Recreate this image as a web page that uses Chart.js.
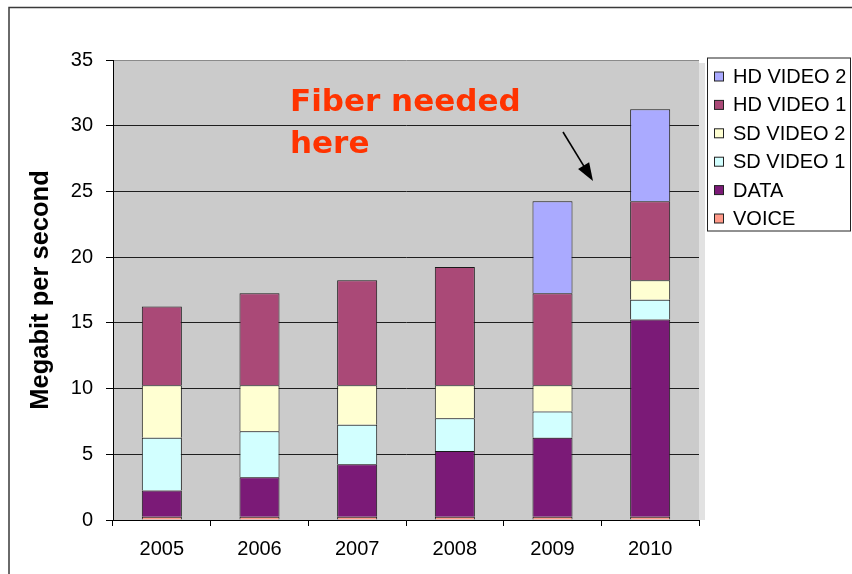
<!DOCTYPE html>
<html>
<head>
<meta charset="utf-8">
<script src="https://cdn.jsdelivr.net/npm/chart.js@4.4.1/dist/chart.umd.min.js"></script>
<style>
html,body{margin:0;padding:0;background:#ffffff;overflow:hidden}
#wrap{width:852px;height:574px;position:relative}
canvas{display:block}
</style>
</head>
<body>
<div id="wrap"><canvas id="c" width="852" height="574"></canvas></div>
<script>
// ---- data ----
const categories = ['2005', '2006', '2007', '2008', '2009', '2010'];
const voice    = [0.25, 0.25, 0.25, 0.25, 0.25, 0.25];
const dataSvc  = [2, 3, 4, 5, 6, 15];
const sdVideo1 = [4, 3.5, 3, 2.5, 2, 1.5];
const sdVideo2 = [4, 3.5, 3, 2.5, 2, 1.5];
const hdVideo1 = [6, 7, 8, 9, 7, 6];
const hdVideo2 = [0, 0, 0, 0, 7, 7];
const yTicks = [0, 5, 10, 15, 20, 25, 30, 35];
const seriesNames = ['VOICE', 'DATA', 'SD VIDEO 1', 'SD VIDEO 2', 'HD VIDEO 1', 'HD VIDEO 2'];
const yTitle = 'Megabit per second';
const annotationLines = ['Fiber needed', 'here'];

// ---- styles ----
const seriesColors = ['#FF9988', '#7B1A77', '#D2FFFF', '#FFFFD2', '#AA4977', '#AAAAFF'];
const seriesValues = [voice, dataSvc, sdVideo1, sdVideo2, hdVideo1, hdVideo2];
const FONT = "'Liberation Sans', Arial, sans-serif";

const datasets = seriesNames.map((name, i) => ({
  label: name,
  data: seriesValues[i],
  backgroundColor: seriesColors[i],
  borderColor: '#1a1a1a',
  borderWidth: { top: 1, left: 1, right: 1, bottom: 0 },
  borderSkipped: false,
  barPercentage: 0.41,
  categoryPercentage: 1.0
}));

const decorPlugin = {
  id: 'decor',
  beforeDraw(chart) {
    const ctx = chart.ctx;
    const a = chart.chartArea;
    ctx.save();
    ctx.fillStyle = '#ffffff';
    ctx.fillRect(0, 0, chart.width, chart.height);
    // outer frame
    ctx.strokeStyle = '#3a3a3a';
    ctx.lineWidth = 1.5;
    ctx.strokeRect(9, 7.5, chart.width + 20, chart.height + 20);
    // plot area shadow strip
    ctx.fillStyle = '#e2e2e2';
    ctx.fillRect(a.right, a.top + 3, 6, a.bottom - a.top - 3);
    // plot area
    ctx.fillStyle = '#CBCBCB';
    ctx.fillRect(a.left, a.top, a.right - a.left, a.bottom - a.top);
    ctx.restore();
  },
  afterDraw(chart) {
    const ctx = chart.ctx;
    ctx.save();
    // legend box
    const lx = 707.5, ly = 58, lw = 143, lh = 173;
    ctx.fillStyle = '#ffffff';
    ctx.fillRect(lx, ly, lw, lh);
    ctx.strokeStyle = '#222222';
    ctx.lineWidth = 1;
    ctx.strokeRect(lx, ly, lw, lh);
    const items = chart.data.datasets.slice().reverse();
    ctx.font = '20px ' + FONT;
    ctx.textBaseline = 'middle';
    ctx.textAlign = 'left';
    items.forEach((ds, k) => {
      const cy = 76.5 + k * 28.4;
      ctx.fillStyle = ds.backgroundColor;
      ctx.fillRect(714.5, cy - 4.5, 9, 9);
      ctx.strokeStyle = '#222222';
      ctx.strokeRect(714.5, cy - 4.5, 9, 9);
      ctx.fillStyle = '#000000';
      ctx.fillText(ds.label, 733, cy + 1);
    });
    // annotation
    ctx.fillStyle = '#FF3300';
    ctx.font = "bold 31px 'DejaVu Sans', sans-serif";
    ctx.textBaseline = 'alphabetic';
    ctx.fillText(annotationLines[0], 290, 110.5);
    ctx.fillText(annotationLines[1], 290, 153);
    // arrow
    const x1 = 563, y1 = 132, x2 = 593, y2 = 181;
    const ang = Math.atan2(y2 - y1, x2 - x1);
    ctx.strokeStyle = '#000000';
    ctx.lineWidth = 1.6;
    ctx.beginPath();
    ctx.moveTo(x1, y1);
    ctx.lineTo(x2 - 14 * Math.cos(ang), y2 - 14 * Math.sin(ang));
    ctx.stroke();
    ctx.fillStyle = '#000000';
    ctx.beginPath();
    ctx.moveTo(x2, y2);
    ctx.lineTo(x2 - 18 * Math.cos(ang) + 6.5 * Math.sin(ang), y2 - 18 * Math.sin(ang) - 6.5 * Math.cos(ang));
    ctx.lineTo(x2 - 18 * Math.cos(ang) - 6.5 * Math.sin(ang), y2 - 18 * Math.sin(ang) + 6.5 * Math.cos(ang));
    ctx.closePath();
    ctx.fill();
    ctx.restore();
  }
};

new Chart(document.getElementById('c'), {
  type: 'bar',
  data: { labels: categories, datasets: datasets },
  options: {
    responsive: false,
    animation: false,
    devicePixelRatio: 1,
    layout: { padding: { left: 0, right: 153, top: 60, bottom: 0 } },
    plugins: {
      legend: { display: false },
      tooltip: { enabled: false }
    },
    scales: {
      x: {
        stacked: true,
        offset: true,
        grid: { display: true, drawOnChartArea: false, drawTicks: true, tickLength: 6, color: '#000000', offset: true },
        border: { display: true, color: '#000000', width: 1 },
        ticks: { color: '#000000', font: { family: FONT, size: 20 }, padding: 11, maxRotation: 0 },
        afterFit(s) { s.height = 54; }
      },
      y: {
        stacked: true,
        min: 0,
        max: 35,
        afterBuildTicks(s) { s.ticks = yTicks.map(v => ({ value: v })); },
        grid: {
          color: (c) => (c.tick && c.tick.value === 35) ? '#8a8a8a' : '#1e1e1e',
          tickColor: '#000000',
          lineWidth: 1,
          drawTicks: true,
          tickLength: 7
        },
        border: { display: true, color: '#000000', width: 1 },
        ticks: { color: '#000000', font: { family: FONT, size: 20 }, padding: 13 },
        title: {
          display: true,
          text: yTitle,
          color: '#000000',
          font: { family: FONT, size: 25.5, weight: 'bold' },
          padding: { top: 26, bottom: 0 }
        },
        afterFit(s) { s.width = 113; }
      }
    }
  },
  plugins: [decorPlugin]
});
</script>
</body>
</html>
